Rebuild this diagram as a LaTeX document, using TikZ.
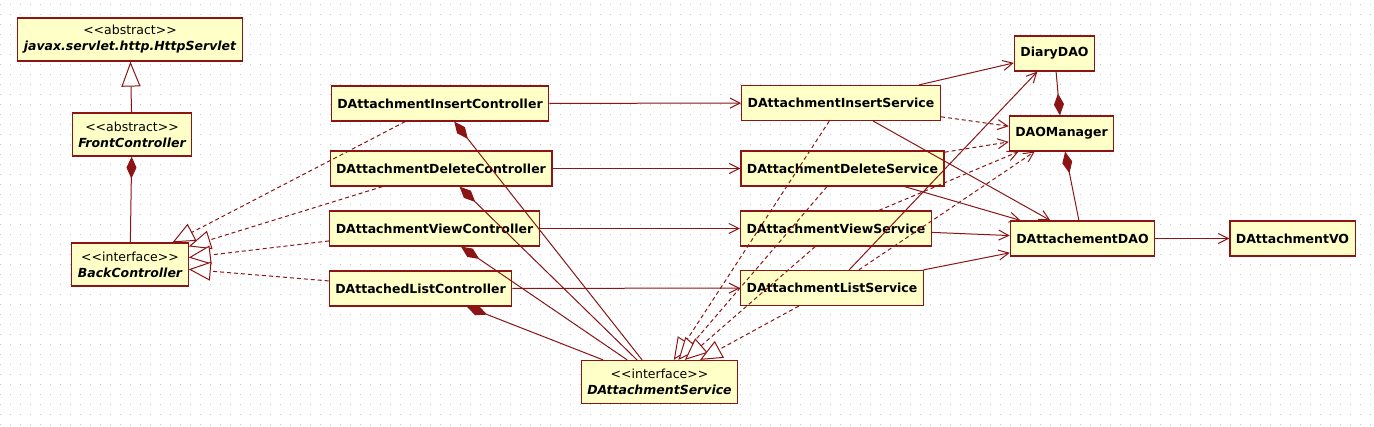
\documentclass[tikz,border=0pt]{standalone}
\usepackage{fontspec}
\newfontfamily\umlfont{DejaVu Sans}
\usetikzlibrary{arrows.meta}
\definecolor{umlred}{RGB}{140,20,20}
\definecolor{umlfill}{RGB}{255,255,200}
\definecolor{griddot}{RGB}{200,200,200}
\newcommand{\stereo}[1]{{\mdseries <\kern0pt<#1>\kern0pt>}}

\begin{document}
\begin{tikzpicture}[x=1pt,y=-1pt,
  cls/.style={draw=umlred,line width=1.2pt,fill=umlfill,inner xsep=6pt,inner ysep=2pt,
    minimum height=35pt,font=\umlfont\bfseries\fontsize{12.5}{16}\selectfont},
  abs/.style={cls,align=center,minimum height=43pt},
  assoc/.style={umlred,line width=1pt,-{Straight Barb[length=10pt,width=10pt]}},
  dep/.style={assoc,dash pattern=on 4pt off 3pt},
  real/.style={umlred,line width=1pt,dash pattern=on 4pt off 3pt,
    -{Triangle[length=22pt,width=19pt,fill=white]}},
  gen/.style={umlred,line width=1pt,-{Triangle[length=25pt,width=19pt,fill=white]}},
  comp/.style={umlred,line width=1pt,{Diamond[length=22pt,width=10pt]}-}]
 \useasboundingbox (0,0) rectangle (1374,427);
 \fill[white] (0,0) rectangle (1374,427);
 \foreach \gy in {5,15,...,425}
  \draw[griddot,line width=1pt,dash pattern=on 1pt off 9pt] (0,\gy) -- (1374,\gy);
 % classes
 \node[abs] (http) at (130,39.5) {\stereo{abstract}\\ \itshape javax.servlet.http.HttpServlet};
 \node[abs] (front) at (132,134.5) {\stereo{abstract}\\ \itshape FrontController};
 \node[abs] (back) at (130,264.5) {\stereo{interface}\\ \itshape BackController};
 \node[cls] (ic) at (440,103.5) {DAttachmentInsertController};
 \node[cls] (dc) at (441,168.5) {DAttachmentDeleteController};
 \node[cls] (vc) at (434.5,228.5) {DAttachmentViewController};
 \node[cls] (lc) at (420.5,288.5) {DAttachedListController};
 \node[abs] (svc) at (659.5,382) {\stereo{interface}\\ \itshape DAttachmentService};
 \node[cls] (is) at (841,103) {DAttachmentInsertService};
 \node[cls] (ds) at (842.5,168.5) {DAttachmentDeleteService};
 \node[cls] (vs) at (836,228.5) {DAttachmentViewService};
 \node[cls] (ls) at (832,288) {DAttachmentListService};
 \node[cls] (diary) at (1054.5,53.5) {DiaryDAO};
 \node[cls] (mgr) at (1061.5,133.5) {DAOManager};
 \node[cls] (dao) at (1082.5,238.5) {DAttachementDAO};
 \node[cls] (vo) at (1292.5,238.5) {DAttachmentVO};
 % left side
 \draw[gen] (front) -- (http);
 \draw[comp] (front) -- (back);
 \draw[real] (ic) -- (back);
 \draw[real] (dc) -- (back);
 \draw[real] (vc) -- (back);
 \draw[real] (lc) -- (back);
 % controllers to services
 \draw[assoc] (ic) -- (is);
 \draw[assoc] (dc) -- (ds);
 \draw[assoc] (vc) -- (vs);
 \draw[assoc] (lc) -- (ls);
 \draw[comp] (ic) -- (svc);
 \draw[comp] (dc) -- (svc);
 \draw[comp] (vc) -- (svc);
 \draw[comp] (lc) -- (svc);
 \draw[real] (is) -- (svc);
 \draw[real] (ds) -- (svc);
 \draw[real] (vs) -- (svc);
 \draw[real] (ls) -- (svc);
 % services to dao
 \draw[dep] (is) -- (mgr);
 \draw[dep] (ds) -- (mgr);
 \draw[dep] (vs) -- (mgr);
 \draw[dep] (ls) -- (mgr);
 \draw[assoc] (is) -- (dao);
 \draw[assoc] (ds) -- (dao);
 \draw[assoc] (vs) -- (dao);
 \draw[assoc] (ls) -- (dao);
 \draw[assoc] (is) -- (diary);
 \draw[assoc] (ls) -- (diary);
 \draw[comp] (mgr) -- (diary);
 \draw[comp] (mgr) -- (dao);
 \draw[assoc] (dao) -- (vo);
\end{tikzpicture}
\end{document}
